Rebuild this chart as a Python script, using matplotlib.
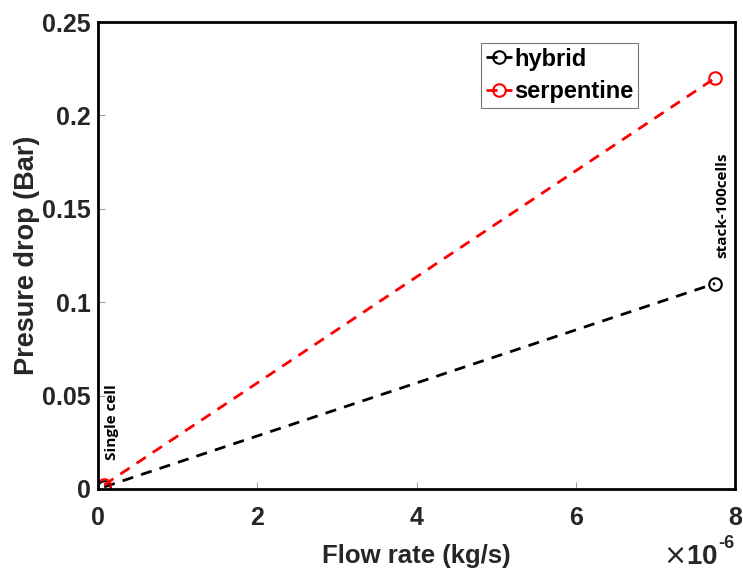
import numpy as np
import matplotlib.pyplot as plt

# flow rate (kg/s) and pressure drop (bar)
flow = [0.0775e-6, 7.75e-6]
hybrid = [0.0011, 0.11]
serpentine = [0.0022, 0.22]
xticks = [0, 2e-6, 4e-6, 6e-6, 8e-6]
xticklabels = ['0', '2', '4', '6', '8']
yticks = [0, 0.05, 0.1, 0.15, 0.2, 0.25]
yticklabels = ['0', '0.05', '0.1', '0.15', '0.2', '0.25']

plt.rcParams['font.family'] = ['Liberation Sans', 'DejaVu Sans']
dark = '#262626'
W, H = 743, 573

fig = plt.figure(figsize=(W / 100, H / 100), dpi=100)
ax = fig.add_axes([98 / W, 1 - 489 / H, 637 / W, 467 / H])

ax.plot(flow, hybrid, '--o', color='k', lw=2, ms=9, mfc='none', mew=1.5,
        dashes=(4, 3), label='hybrid')
ax.plot(flow, serpentine, '--o', color='r', lw=2, ms=9, mfc='none', mew=1.5,
        dashes=(4, 3), label='serpentine')

ax.set_xlim(0, 8e-6)
ax.set_ylim(0, 0.25)
ax.set_xticks(xticks)
ax.set_xticklabels(xticklabels)
ax.set_yticks(yticks)
ax.set_yticklabels(yticklabels)
ax.tick_params(direction='in', length=5, width=0.6, color='#888888',
               labelsize=18, labelcolor=dark)
ax.tick_params(axis='x', pad=12)
ax.tick_params(axis='y', pad=5)
for lab in ax.get_xticklabels() + ax.get_yticklabels():
    lab.set_fontweight('bold')
for s in ax.spines.values():
    s.set_linewidth(2)

ax.set_xlabel('Flow rate (kg/s)', fontsize=18.5, fontweight='bold', color=dark, labelpad=10)
ax.set_ylabel('Presure drop (Bar)', fontsize=19.5, fontweight='bold', color=dark, labelpad=2)

# exponent label like matlab
fig.text(718 / W, 1 - 557 / H, r'$\times$' + '10', ha='right', va='center',
         fontsize=20, fontweight='bold', color=dark)
fig.text(718 / W, 1 - 543 / H, '-6', ha='left', va='center',
         fontsize=13, fontweight='bold', color=dark)

ax.text(0.17e-6, 0.036, 'Single cell', rotation=90, ha='center', va='center',
        fontsize=11, fontweight='bold', family=['Open Sans', 'DejaVu Sans'])
ax.text(7.84e-6, 0.152, 'stack-100cells', rotation=90, ha='center', va='center',
        fontsize=11, fontweight='bold', family=['Open Sans', 'DejaVu Sans'])

leg = ax.legend(loc='upper left', bbox_to_anchor=(0.601, 0.955), borderaxespad=0,
                prop={'weight': 'bold', 'size': 17}, handlelength=1.1,
                handletextpad=0.1, borderpad=0.2, labelspacing=0.4,
                fancybox=False, edgecolor='#555555')
leg.get_frame().set_linewidth(0.8)

fig.savefig('out.png', dpi=100)
